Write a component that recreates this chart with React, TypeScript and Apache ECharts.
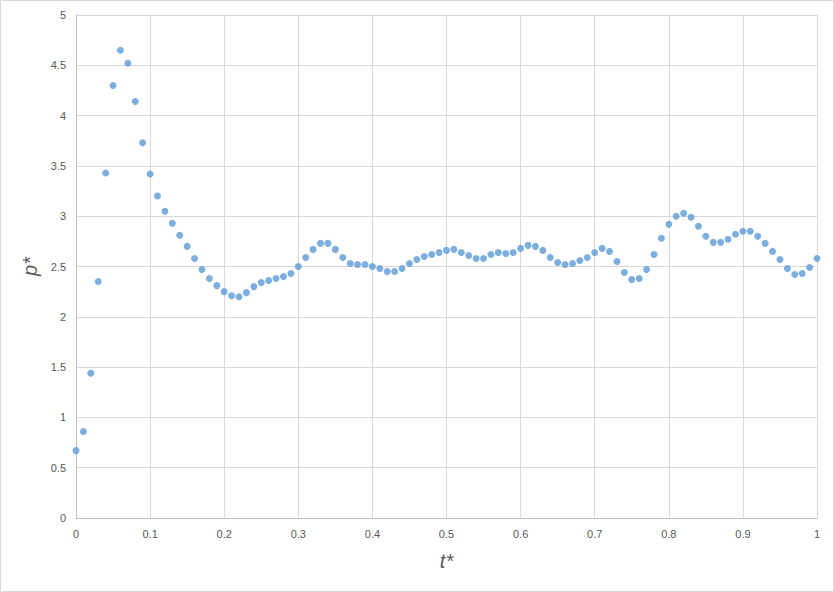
import React, { useEffect, useRef } from "react";
import * as echarts from "echarts";

const tValues: number[] = Array.from({ length: 101 }, (_, i) => Number((i / 100).toFixed(2)));

const pValues: number[] = [
  0.67, 0.86, 1.44, 2.35, 3.43, 4.30, 4.65, 4.52, 4.14, 3.73,
  3.42, 3.20, 3.05, 2.93, 2.81, 2.70, 2.58, 2.47, 2.38, 2.31,
  2.25, 2.21, 2.20, 2.24, 2.30, 2.34, 2.36, 2.38, 2.40, 2.43,
  2.50, 2.59, 2.67, 2.73, 2.73, 2.67, 2.59, 2.53, 2.52, 2.52,
  2.50, 2.48, 2.45, 2.45, 2.48, 2.53, 2.57, 2.60, 2.62, 2.64,
  2.66, 2.67, 2.64, 2.61, 2.58, 2.58, 2.62, 2.64, 2.63, 2.64,
  2.68, 2.71, 2.70, 2.66, 2.59, 2.54, 2.52, 2.53, 2.56, 2.59,
  2.64, 2.68, 2.65, 2.55, 2.44, 2.37, 2.38, 2.47, 2.62, 2.78,
  2.92, 3.00, 3.03, 2.99, 2.90, 2.80, 2.74, 2.74, 2.77, 2.82,
  2.85, 2.85, 2.80, 2.73, 2.65, 2.57, 2.48, 2.42, 2.43, 2.49,
  2.58,
];

const xAxisName = "t*";
const yAxisName = "p*";

export default function App() {
  const ref = useRef<HTMLDivElement>(null);
  useEffect(() => {
    if (!ref.current) return;
    const chart = echarts.init(ref.current, null, { renderer: "svg" });
    const font = "'Liberation Sans', Arial, sans-serif";
    chart.setOption({
      animation: false,
      backgroundColor: "#ffffff",
      graphic: [
        {
          type: "rect",
          shape: { x: 0.5, y: 0.5, width: 833, height: 591 },
          style: { fill: "none", stroke: "#d9d9d9", lineWidth: 1 },
          silent: true,
        },
      ],
      grid: { left: 76, right: 17, top: 15, bottom: 74, containLabel: false },
      xAxis: {
        type: "value",
        min: 0,
        max: 1,
        interval: 0.1,
        name: xAxisName,
        nameLocation: "middle",
        nameGap: 33,
        nameTextStyle: { fontFamily: font, fontStyle: "italic", fontSize: 20, color: "#595959" },
        axisLine: { show: true, lineStyle: { color: "#bfbfbf", width: 1 } },
        axisTick: { show: false },
        axisLabel: { color: "#595959", fontSize: 11, fontFamily: font, margin: 10 },
        splitLine: { show: true, lineStyle: { color: "#d9d9d9", width: 1 } },
      },
      yAxis: {
        type: "value",
        min: 0,
        max: 5,
        interval: 0.5,
        name: yAxisName,
        nameLocation: "middle",
        nameGap: 34,
        nameTextStyle: { fontFamily: font, fontStyle: "italic", fontSize: 20, color: "#595959" },
        axisLine: { show: true, lineStyle: { color: "#bfbfbf", width: 1 } },
        axisTick: { show: false },
        axisLabel: { color: "#595959", fontSize: 11, fontFamily: font, margin: 10 },
        splitLine: { show: true, lineStyle: { color: "#d9d9d9", width: 1 } },
      },
      series: [
        {
          type: "scatter",
          data: tValues.map((t, i) => [t, pValues[i]]),
          symbol: "circle",
          symbolSize: 7,
          itemStyle: { color: "#5b9bd5" },
        },
      ],
    });
    return () => chart.dispose();
  }, []);
  return (
    <div
      ref={ref}
      style={{ position: "absolute", left: 0, top: 0, width: 834, height: 592 }}
    />
  );
}
